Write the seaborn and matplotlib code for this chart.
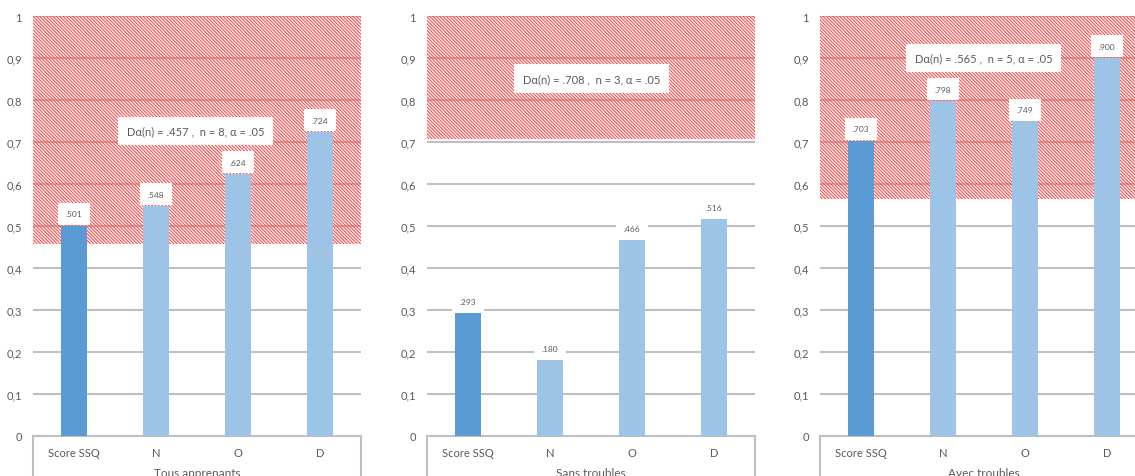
import matplotlib
matplotlib.use("Agg")
import matplotlib.pyplot as plt
import seaborn as sns
import pandas as pd

# ---- data ----
categories = ["Score SSQ", "N", "O", "D"]
groups = ["Tous apprenants", "Sans troubles", "Avec troubles"]
values_tous = [0.501, 0.548, 0.624, 0.724]
values_sans = [0.293, 0.180, 0.466, 0.516]
values_avec = [0.703, 0.798, 0.749, 0.900]
thresholds = [0.457, 0.708, 0.565]
n_values = [8, 3, 5]
alpha_level = ".05"
yticks = [0, 0.1, 0.2, 0.3, 0.4, 0.5, 0.6, 0.7, 0.8, 0.9, 1.0]
ytick_labels = ["0", "0,1", "0,2", "0,3", "0,4", "0,5", "0,6", "0,7", "0,8", "0,9", "1"]
note_positions = [(1.48, 0.726), (1.51, 0.851), (1.495, 0.90)]

sns.set_theme(style="white")
plt.rcParams["font.family"] = ["Lato", "DejaVu Sans"]
plt.rcParams["hatch.linewidth"] = 0.75

W, H = 1135, 477
fig = plt.figure(figsize=(W / 100, H / 100), dpi=100)

lefts = [33, 427, 820]
ax_w = 328
bottom_px = 437
top_px = 17

colors = ["#5B9BD5", "#9DC3E6", "#9DC3E6", "#9DC3E6"]
text_col = "#595959"
grid_col = "#BFBFBF"

all_values = [values_tous, values_sans, values_avec]

for k, (grp, vals, thr, n, npos) in enumerate(zip(groups, all_values, thresholds, n_values, note_positions)):
    ax = fig.add_axes([lefts[k] / W, (H - bottom_px) / H, ax_w / W, (bottom_px - top_px) / H])
    df = pd.DataFrame({"cat": categories, "val": vals})
    sns.barplot(data=df, x="cat", y="val", hue="cat", palette=colors, legend=False,
                saturation=1, width=0.31, ax=ax, zorder=3, linewidth=0)
    ax.set_xlim(-0.5, 3.5)
    ax.set_ylim(0, 1)
    ax.set_yticks(yticks)
    ax.set_yticklabels(ytick_labels, color=text_col, fontsize=8)
    ax.yaxis.grid(True, color=grid_col, lw=1.5, zorder=0)
    ax.set_axisbelow(True)
    ax.set_xlabel("")
    ax.set_ylabel("")
    for s in ["left", "right", "top"]:
        ax.spines[s].set_visible(False)
    ax.spines["bottom"].set_color(grid_col)
    ax.spines["bottom"].set_linewidth(1.5)
    ax.tick_params(axis="y", length=0, pad=8)
    ax.tick_params(axis="x", length=0, pad=8, labelcolor=text_col, labelsize=8)

    # rejection region (hatched)
    ax.axhspan(thr, 1.0, facecolor="none", edgecolor="#FF4040",
               hatch="\\" * 10, linewidth=0, zorder=1)

    # category-axis box lines
    xt = ax.get_xaxis_transform()
    for xe in (-0.5, 3.5):
        ax.plot([xe, xe], [0, -0.12], transform=xt, color=grid_col, lw=1.5,
                clip_on=False, zorder=2)
    ax.text(1.5, -0.075, grp, transform=xt, ha="center", va="top",
            fontsize=8.5, color=text_col, clip_on=False)

    # value labels
    for i, v in enumerate(vals):
        lab = f"{v:.3f}".lstrip("0")
        ax.annotate(lab, (i, v), xytext=(0, 6), textcoords="offset points",
                    ha="center", va="bottom", fontsize=6, color=text_col, zorder=5,
                    bbox=dict(boxstyle="square,pad=0.9", fc="white", ec="none"))

    note = f"D\u03b1(n) = {thr:.3f} ,  n = {n}, \u03b1 = {alpha_level}".replace("0.", ".")
    ax.text(npos[0], npos[1], note, ha="center", va="center", fontsize=8,
            color=text_col, zorder=5,
            bbox=dict(boxstyle="square,pad=0.8", fc="white", ec="none"))

fig.savefig("out.png", dpi=100)
